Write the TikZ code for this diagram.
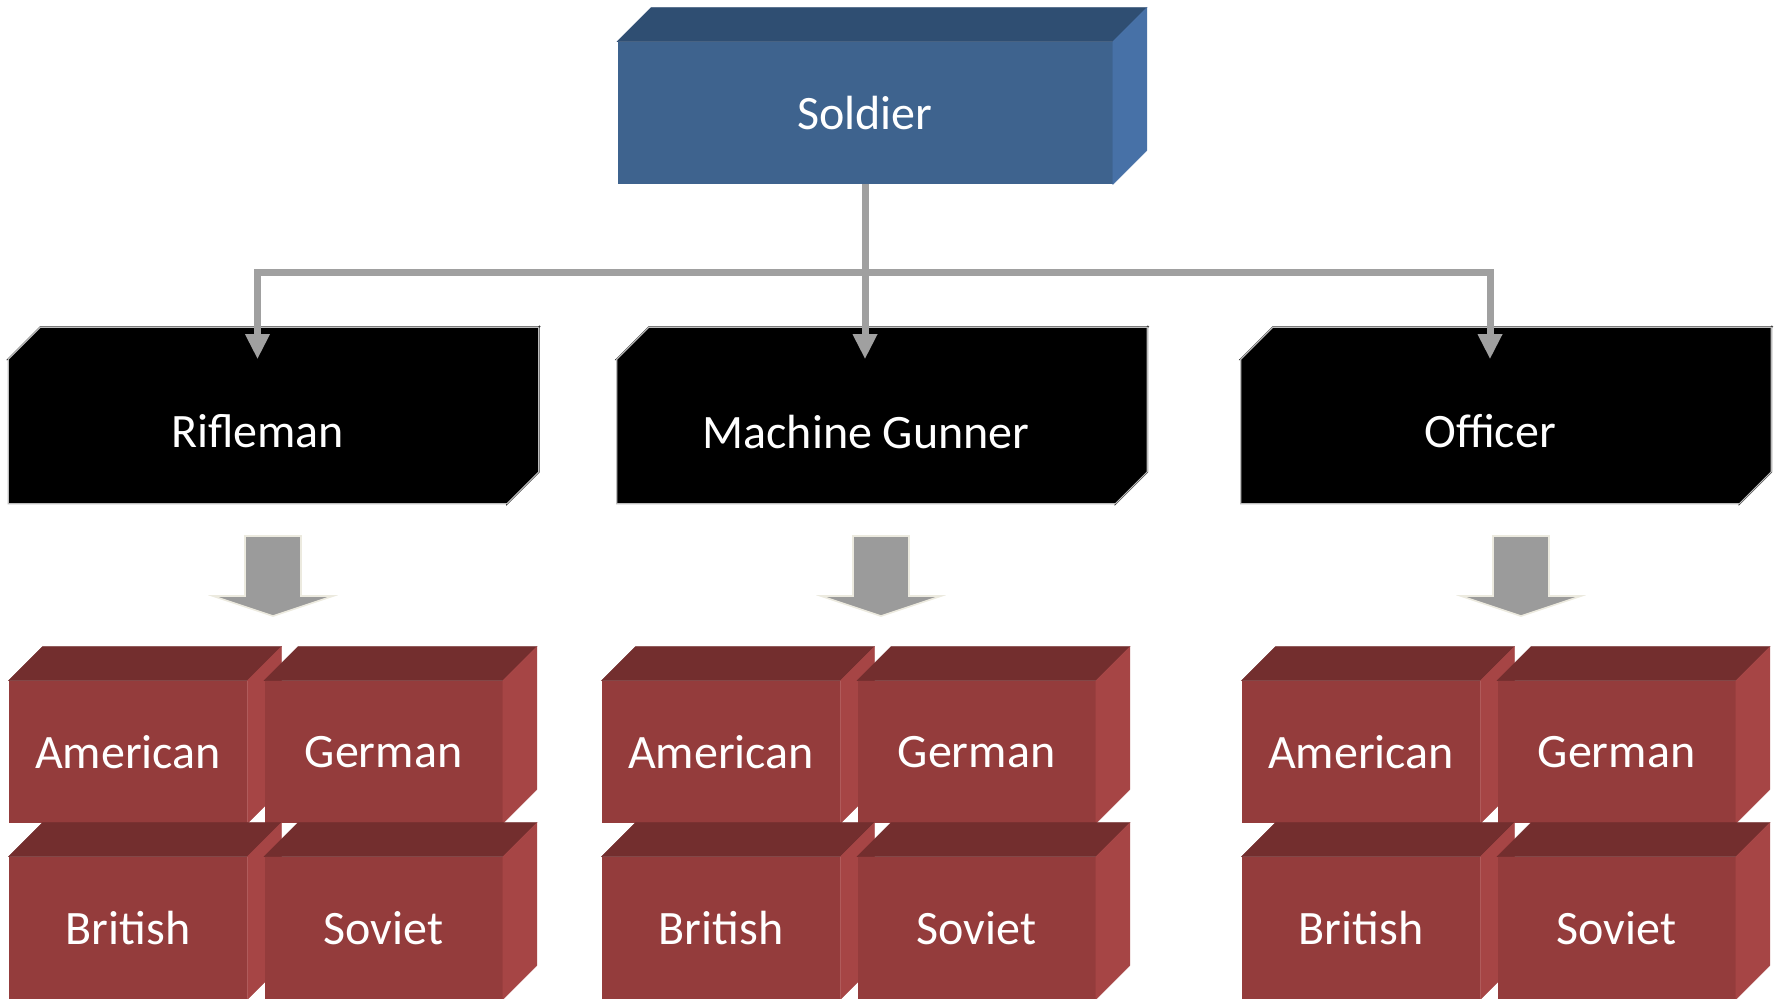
\documentclass[tikz,border=0pt]{standalone}
\usepackage{fontspec}
\setmainfont{Carlito}
\usetikzlibrary{arrows.meta}

\definecolor{cBlueF}{HTML}{3E638E}
\definecolor{cBlueT}{HTML}{2F4E72}
\definecolor{cBlueS}{HTML}{4771A7}
\definecolor{cRedF}{HTML}{943C3C}
\definecolor{cRedT}{HTML}{732E2E}
\definecolor{cRedS}{HTML}{A64545}
\definecolor{cEdge}{HTML}{BDBDBD}
\definecolor{cLine}{HTML}{A0A0A0}
\definecolor{cArrow}{HTML}{9B9B9B}
\definecolor{cArrowRim}{HTML}{ECEADF}

% one block = front face (the node) plus top face, right face and an optional rim
% #1 name, #2 kind, #3 x, #4 y (pixel grid), #5 depth, #6 text
\newcommand{\boxblock}[6]{%
  \node[#2front] (#1) at (#3,#4) {#6};
  \path[#2top] (#1.north west) -- ++(#5,-#5) -- ([shift={(#5,-#5)}]#1.north east)
    -- (#1.north east) -- cycle;
  \path[#2side] (#1.north east) -- ++(#5,-#5) -- ([shift={(#5,-#5)}]#1.south east)
    -- (#1.south east) -- cycle;
  \path[#2rim] (#1.south west) -- (#1.north west) -- ++(#5,-#5)
    -- ([shift={(#5,-#5)}]#1.north east) -- ([shift={(#5,-#5)}]#1.south east)
    -- (#1.south east) -- cycle;
}

% broad grey arrow pointing down; #1 name, #2 x of its axis, #3 y of its top
\newcommand{\downblock}[3]{%
  \coordinate (#1) at (#2,#3);
  \path[blockarrow] ([shift={(-28,0)}]#1) -- ++(56,0) -- ++(0,60) -- ++(32,0)
    -- ++(-60,20) -- ++(-60,-20) -- ++(32,0) -- cycle;
}

% a group of four nation blocks; #1 prefix, #2 x of the left front face centre
\newcommand{\nationgroup}[2]{%
  \boxblock{#1am}{red}{#2}{752}{34}{American}
  \boxblock{#1ge}{red}{#2+255.5}{752}{34}{German}
  \boxblock{#1br}{red}{#2}{928}{34}{British}
  \boxblock{#1so}{red}{#2+255.5}{928}{34}{Soviet}
}

\tikzset{
  face/.style={inner sep=0pt, text=white, font=\fontsize{24}{29}\selectfont},
  bluefront/.style={face, fill=cBlueF, minimum width=247.5pt, minimum height=71pt},
  bluetop/.style={fill=cBlueT, draw=cBlueT, line width=0.2pt},
  blueside/.style={fill=cBlueS, draw=cBlueS, line width=0.2pt},
  bluerim/.style={},
  blackfront/.style={face, fill=black, draw=black, line width=0.8pt,
    minimum width=248.5pt, minimum height=71.5pt},
  blacktop/.style={fill=black, draw=black, line width=0.8pt},
  blackside/.style={fill=black, draw=black, line width=0.8pt},
  blackrim/.style={draw=cEdge, line width=0.6pt},
  redfront/.style={face, fill=cRedF, minimum width=119pt, minimum height=71pt},
  redtop/.style={fill=cRedT, draw=cRedT, line width=0.2pt},
  redside/.style={fill=cRedS, draw=cRedS, line width=0.2pt},
  redrim/.style={},
  conn/.style={draw=cLine, line width=3.5pt},
  tip/.style={-{Triangle[width=11.5pt,length=12.5pt]}},
  blockarrow/.style={fill=cArrow, draw=cArrowRim, line width=0.8pt, line join=miter},
}

\begin{document}
\begin{tikzpicture}[x=0.5pt, y=-0.5pt]
  \fill[white] (0,0) rectangle (1780,998);
  \useasboundingbox (0,0) rectangle (1780,998);

  % root
  \boxblock{soldier}{blue}{865}{113}{34}{Soldier}

  % roles
  \boxblock{rifle}{black}{257.5}{431.5}{32}{Rifleman}
  \boxblock{gunner}{black}{866}{431.5}{32}{Machine Gunner}
  \boxblock{officer}{black}{1490}{431.5}{32}{Officer}

  % tree connectors
  \coordinate (bus) at (soldier.south |- 0,272);
  \draw[conn] (soldier.south) -- (bus);
  \draw[conn, tip] (bus) -| (rifle.north);
  \draw[conn, tip] (bus) -| (officer.north);
  \draw[conn, tip] (bus) -- (bus |- gunner.north);

  % broad arrows down to the nations
  \downblock{riflearrow}{273}{536}
  \downblock{gunnerarrow}{881}{536}
  \downblock{officerarrow}{1521}{536}

  % nations under each role
  \nationgroup{r}{128}
  \nationgroup{g}{721}
  \nationgroup{o}{1361}
\end{tikzpicture}
\end{document}
